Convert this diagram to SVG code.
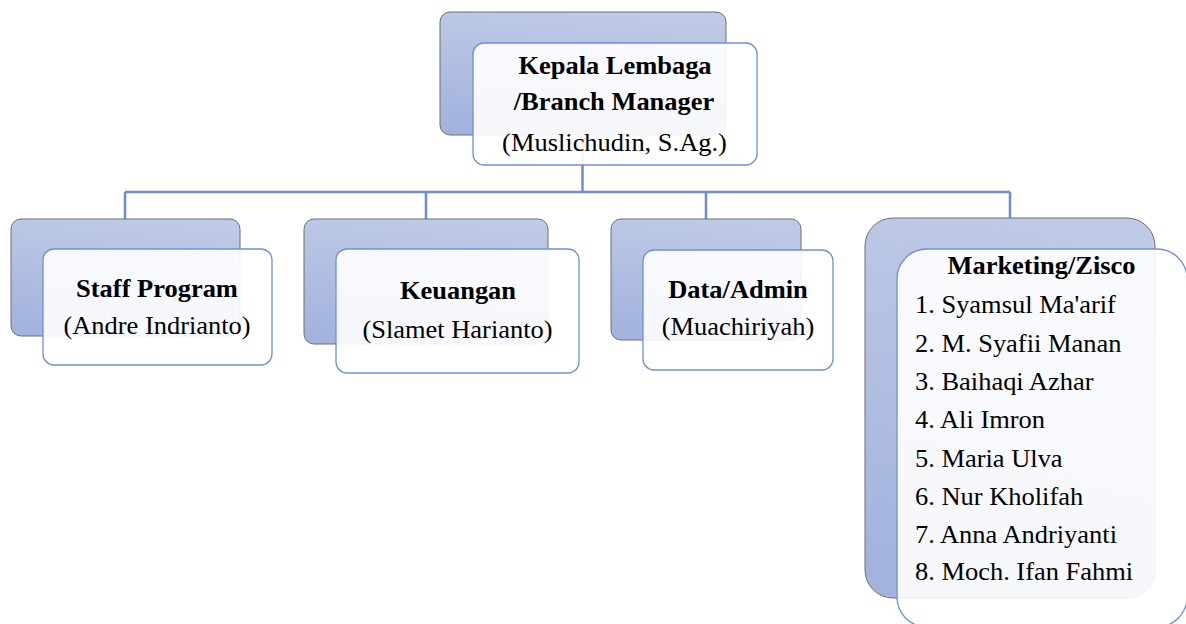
<svg xmlns="http://www.w3.org/2000/svg" width="1186" height="624" viewBox="0 0 1186 624">
<defs>
<linearGradient id="bg" x1="0.6" y1="0" x2="0.4" y2="1">
<stop offset="0" stop-color="#bfcae6"/>
<stop offset="1" stop-color="#a3b3de"/>
</linearGradient>
</defs>
<style>
.back{fill:url(#bg);stroke:#6e6e72;stroke-width:1}
.front{fill:#ffffff;fill-opacity:0.9;stroke:#7090d2;stroke-width:1.3}
.conn{fill:none;stroke:#6e8dd0;stroke-width:2.5}
text{font-family:"Liberation Serif","Times New Roman",serif;font-size:24.5px;fill:#000}
.b{font-weight:bold;text-anchor:middle}
.r{text-anchor:middle}
.l{text-anchor:start}
</style>
<rect width="1186" height="624" fill="#ffffff"/>
<g id="connectors">
<path class="conn" d="M582.5 140 V192 M125 192 H1010 M125 192 V219 M426 192 V219 M706 192 V219 M1010 192 V219"/>
</g>
<g id="node-kepala">
<rect class="back" x="440" y="12" width="286" height="123" rx="10"/>
<rect class="front" x="473" y="43" width="284" height="122" rx="11"/>
<text class="b" transform="translate(615 74) scale(1.08 1)">Kepala Lembaga</text>
<text class="b" transform="translate(614 110) scale(1.08 1)">/Branch Manager</text>
<text class="r" transform="translate(614.5 151) scale(1.08 1)">(Muslichudin, S.Ag.)</text>
</g>
<g id="node-staff">
<rect class="back" x="11" y="219" width="229" height="117" rx="10"/>
<rect class="front" x="43" y="249" width="229" height="116" rx="11"/>
<text class="b" transform="translate(157 297) scale(1.08 1)">Staff Program</text>
<text class="r" transform="translate(157 334) scale(1.08 1)">(Andre Indrianto)</text>
</g>
<g id="node-keuangan">
<rect class="back" x="304" y="219" width="244" height="125" rx="10"/>
<rect class="front" x="336" y="249" width="243" height="124" rx="11"/>
<text class="b" transform="translate(458 299) scale(1.08 1)">Keuangan</text>
<text class="r" transform="translate(457.5 338) scale(1.08 1)">(Slamet Harianto)</text>
</g>
<g id="node-data">
<rect class="back" x="611" y="219" width="190" height="121" rx="10"/>
<rect class="front" x="643" y="250" width="190" height="120" rx="11"/>
<text class="b" transform="translate(738 298) scale(1.08 1)">Data/Admin</text>
<text class="r" transform="translate(738 335) scale(1.08 1)">(Muachiriyah)</text>
</g>
<g id="node-marketing">
<rect class="back" x="865" y="218" width="290" height="380" rx="28"/>
<rect class="front" x="897" y="249" width="290" height="378" rx="30"/>
<text class="b" transform="translate(1041.5 274) scale(1.08 1)">Marketing/Zisco</text>
<text class="l" transform="translate(915 313) scale(1.08 1)">1. Syamsul Ma'arif</text>
<text class="l" transform="translate(915 352) scale(1.08 1)">2. M. Syafii Manan</text>
<text class="l" transform="translate(915 390) scale(1.08 1)">3. Baihaqi Azhar</text>
<text class="l" transform="translate(915 428) scale(1.08 1)">4. Ali Imron</text>
<text class="l" transform="translate(915 467) scale(1.08 1)">5. Maria Ulva</text>
<text class="l" transform="translate(915 505) scale(1.08 1)">6. Nur Kholifah</text>
<text class="l" transform="translate(915 543) scale(1.08 1)">7. Anna Andriyanti</text>
<text class="l" transform="translate(915 580) scale(1.08 1)">8. Moch. Ifan Fahmi</text>
</g>
</svg>
